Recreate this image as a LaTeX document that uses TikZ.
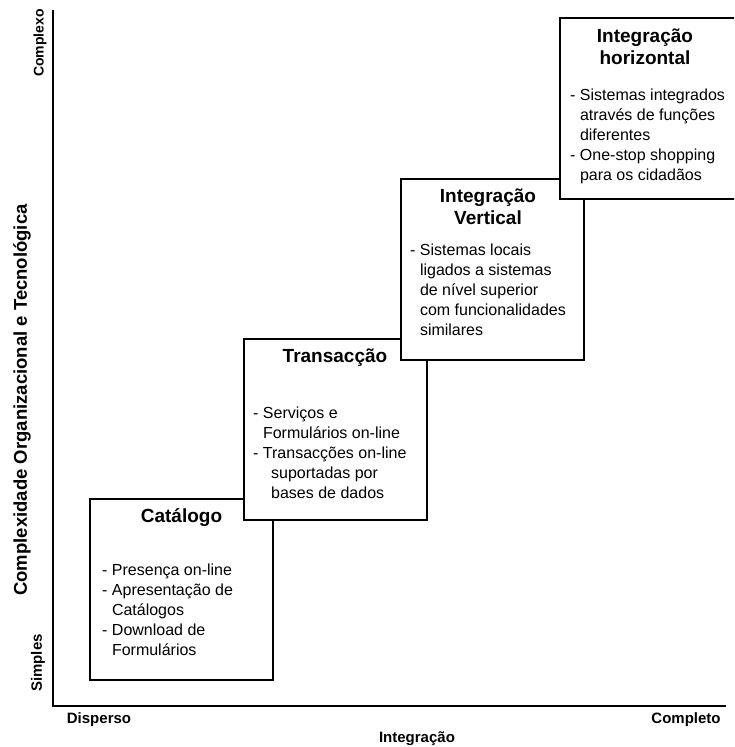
\documentclass[tikz,border=0pt]{standalone}
\usepackage{fontspec}
\setmainfont{Liberation Sans}
\begin{document}
\begin{tikzpicture}[x=1pt,y=-1pt,
  stage/.style={draw=black, fill=white, line width=1.6pt, minimum width=183pt,
    minimum height=181pt, anchor=north west, inner sep=0pt},
  stagetitle/.style={font=\fontsize{19}{22.5}\selectfont\bfseries, align=center,
    anchor=base, inner sep=0pt},
  stagebody/.style={font=\fontsize{16}{20}\selectfont, align=left,
    anchor=base west, inner sep=0pt},
  axislabel/.style={font=\fontsize{15}{18}\selectfont\bfseries, inner sep=0pt},
  axisline/.style={line width=1.2pt}]
\clip (0,0) rectangle (734,747);

% axes
\coordinate (top) at (53,10);
\coordinate (origin) at (53,706);
\coordinate (right) at (726,706);
\draw[axisline] (top) -- (origin) -- (right);

\node[axislabel, rotate=90, font=\fontsize{14}{16}\selectfont\bfseries] (complexo) at (40,43) {Complexo};
\node[axislabel, rotate=90, font=\fontsize{18.5}{22}\selectfont\bfseries] (yaxis) at (22,400) {Complexidade Organizacional e Tecnológica};
\node[axislabel, rotate=90] (simples) at (38,663) {Simples};
\node[axislabel] (disperso) at (99,720) {Disperso};
\node[axislabel] (completo) at (686,720) {Completo};
\node[axislabel] (xaxis) at (417,739) {Integração};

% stage 1 (anchors sit on the baseline of the last line)
\node[stage] (catalogo) at (89,498) {};
\node[stagetitle] (catalogoT) at (181.5,522) {Catálogo};
\node[stagebody] (catalogoB) at (102,655) {- Presença on-line\\
- Apresentação de\\
\hspace*{9.8pt}Catálogos\\
- Download de\\
\hspace*{9.8pt}Formulários};

% stage 2
\node[stage] (transaccao) at (243,338) {};
\node[stagetitle] (transaccaoT) at (335,362) {Transacção};
\node[stagebody] (transaccaoB) at (253,498) {- Serviços e\\
\hspace*{9.8pt}Formulários on-line\\
- Transacções on-line\\
\hspace*{18pt}suportadas por\\
\hspace*{18pt}bases de dados};

% stage 3
\node[stage] (vertical) at (400,178) {};
\node[stagetitle] (verticalT) at (488,224.5) {Integração\\Vertical};
\node[stagebody] (verticalB) at (410,335) {- Sistemas locais\\
\hspace*{9.8pt}ligados a sistemas\\
\hspace*{9.8pt}de nível superior\\
\hspace*{9.8pt}com funcionalidades\\
\hspace*{9.8pt}similares};

% stage 4
\node[stage] (horizontal) at (559,17) {};
\node[stagetitle] (horizontalT) at (645,64.5) {Integração\\horizontal};
\node[stagebody] (horizontalB) at (570,180) {- Sistemas integrados\\
\hspace*{9.8pt}através de funções\\
\hspace*{9.8pt}diferentes\\
- One-stop shopping\\
\hspace*{9.8pt}para os cidadãos};
\end{tikzpicture}
\end{document}
